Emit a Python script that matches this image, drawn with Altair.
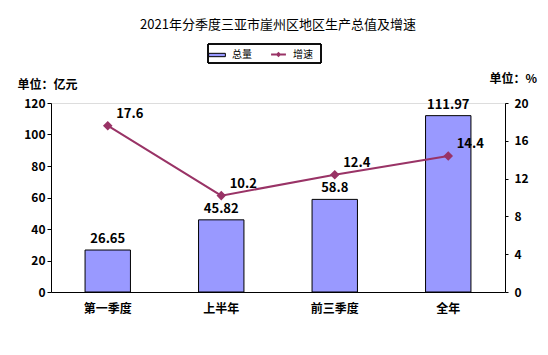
import altair as alt
import pandas as pd

categories = ["第一季度", "上半年", "前三季度", "全年"]
totals = [26.65, 45.82, 58.8, 111.97]
growth = [17.6, 10.2, 12.4, 14.4]

df = pd.DataFrame({
    "cat": categories,
    "total": totals,
    "growth": growth,
    "s_bar": ["总量"] * 4,
    "s_line": ["增速"] * 4,
})

FONT = "Noto Sans CJK SC"
BAR = "#9999FF"
LINE = "#993366"

x = alt.X("cat:N", sort=categories, title=None,
          scale=alt.Scale(paddingInner=0.6, paddingOuter=0.3),
          axis=alt.Axis(labelAngle=0, ticks=False, domainColor="black", labelFont=FONT,
                        labelFontWeight="bold", labelFontSize=12, labelColor="black",
                        labelPadding=11))

bar_legend = alt.Legend(title=None, orient="none", legendX=157, legendY=-57, direction="horizontal",
                        labelFont=FONT, labelFontSize=10, labelColor="black", padding=0,
                        symbolType="M-1,-0.2H1V0.2H-1Z", symbolSize=280, symbolStrokeColor="black",
                        symbolStrokeWidth=1, labelOffset=6)
line_legend = alt.Legend(title=None, orient="none", legendX=219, legendY=-57, direction="horizontal",
                         labelFont=FONT, labelFontSize=10, labelColor="black", padding=0,
                         symbolType="M-1,0H1M-0.18,0L0,-0.18L0.18,0L0,0.18Z", symbolSize=220,
                         symbolStrokeWidth=2, labelOffset=6)

yl = alt.Y("total:Q", scale=alt.Scale(domain=[0, 120]),
           axis=alt.Axis(values=[0, 20, 40, 60, 80, 100, 120], title="单位：亿元", titleAngle=0,
                         titleX=-34, titleY=-19, titleAlign="left", titleBaseline="middle",
                         titleFont=FONT, titleFontSize=12, titleFontWeight="bold",
                         labelFont=FONT, labelFontSize=12, labelFontWeight="bold", labelColor="black",
                         labelOverlap=False, grid=False, domainColor="black", tickColor="black", tickSize=4))
bars = alt.Chart(df).mark_bar(stroke="black", strokeWidth=1).encode(
    x=x,
    y=yl,
    fill=alt.Fill("s_bar:N", scale=alt.Scale(domain=["总量"], range=[BAR]), legend=bar_legend),
)
bar_text = alt.Chart(df).mark_text(dy=-11, font=FONT, fontSize=13, fontWeight="bold", color="black").encode(
    x=alt.X("cat:N", sort=categories),
    y=yl,
    text=alt.Text("total:Q"),
)
frame = alt.Chart(df).mark_rect(fill="white", fillOpacity=0, stroke="black", strokeWidth=1, clip=False).encode(
    x=alt.value(157), x2=alt.value(270), y=alt.value(-59), y2=alt.value(-40),
)
left = alt.layer(frame, bars, bar_text)

yr = alt.Y("growth:Q", scale=alt.Scale(domain=[0, 20]),
           axis=alt.Axis(orient="right", values=[0, 4, 8, 12, 16, 20], title="单位：%", titleAngle=0,
                         titleX=-16, titleY=-25, titleAlign="left", titleBaseline="middle",
                         titleFont=FONT, titleFontSize=12, titleFontWeight="bold",
                         labelFont=FONT, labelFontSize=12, labelFontWeight="bold", labelColor="black",
                         labelPadding=6, labelOverlap=False, grid=False, domainColor="black",
                         tickColor="black", tickSize=3))
line = alt.Chart(df).mark_line(strokeWidth=2, point=alt.OverlayMarkDef(shape="diamond", size=45, filled=True, color=LINE)).encode(
    x=alt.X("cat:N", sort=categories),
    y=yr,
    stroke=alt.Stroke("s_line:N", scale=alt.Scale(domain=["增速"], range=[LINE]), legend=line_legend),
)
line_text = alt.Chart(df).mark_text(dx=22, dy=-12, font=FONT, fontSize=13, fontWeight="bold", color="black").encode(
    x=alt.X("cat:N", sort=categories),
    y=yr,
    text=alt.Text("growth:Q"),
)
right = alt.layer(line, line_text)

chart = alt.layer(left, right).resolve_scale(y="independent").properties(
    width=454, height=189,
    autosize=alt.AutoSizeParams(type="none"),
    padding={"left": 43, "top": 95, "right": 35, "bottom": 55},
    title=alt.TitleParams("2021年分季度三亚市崖州区地区生产总值及增速", font=FONT, fontSize=13,
                          fontWeight="normal", color="black", offset=12, anchor="middle"),
).configure_view(stroke=None).configure_axis(labelOverlap=False).configure(background="white")

chart.save("out.html", embed_options={"renderer": "svg", "actions": False})
